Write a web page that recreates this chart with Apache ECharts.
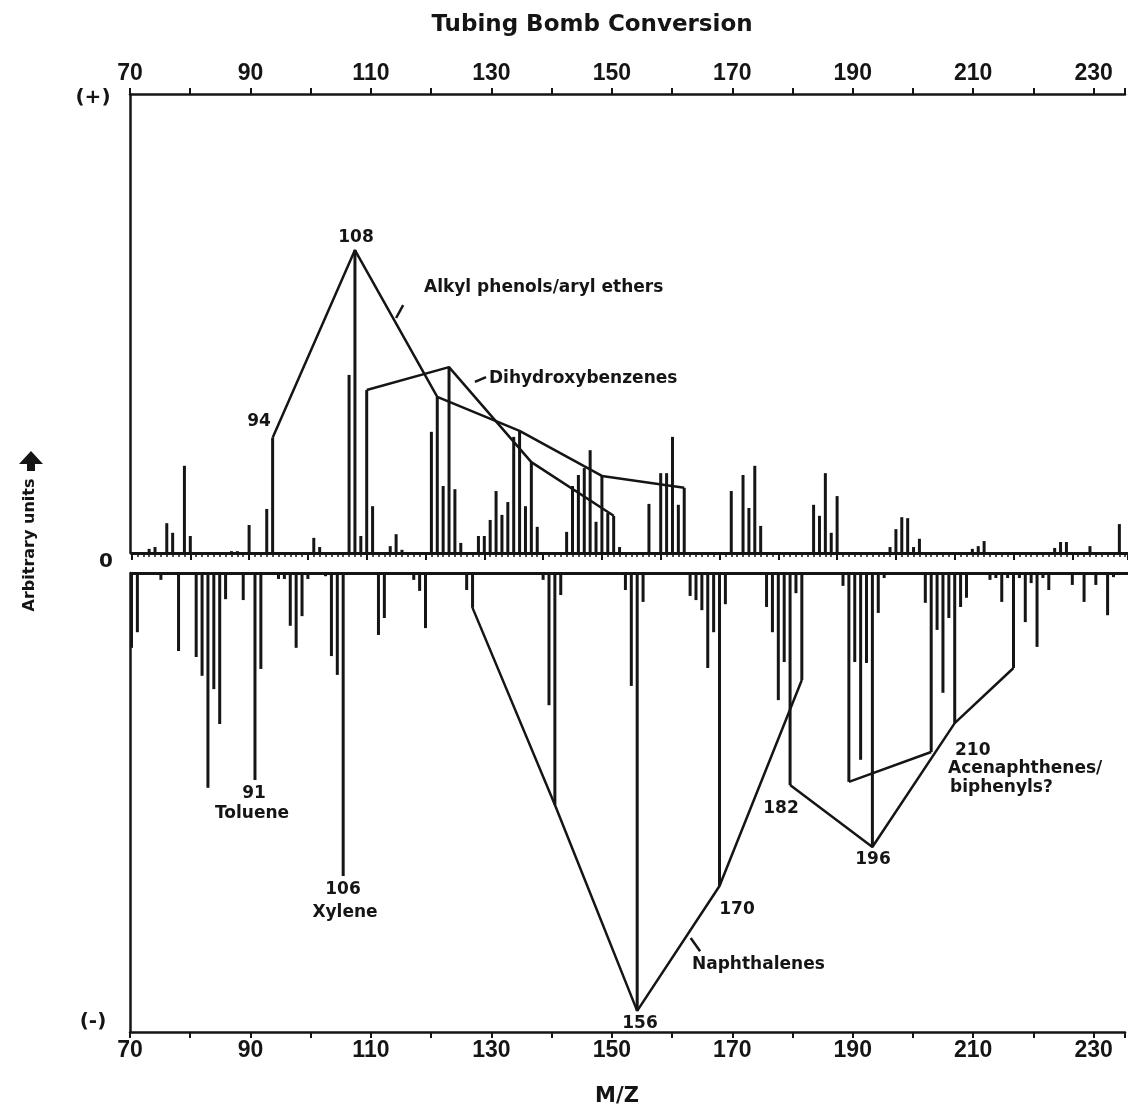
<!DOCTYPE html>
<html>
<head>
<meta charset="utf-8">
<script src="https://cdn.jsdelivr.net/npm/echarts@6/dist/echarts.min.js"></script>
<style>
  html, body { margin: 0; padding: 0; background: #fff; }
  #chart { width: 1128px; height: 1120px; }
</style>
</head>
<body>
<div id="chart"></div>
<script>
// Printed m/z scale on the frame (top and bottom)
const frameMin = 70;
const frameMax = 235.2;
const frameStep = 10;
const frameLabelStep = 20;

// m/z range of the spectrum itself
const spectrumMin = 70;
const spectrumMax = 239.47;

// Ions more abundant after conversion (upper panel, arbitrary units 0-100)
const upperMz = [73, 74, 76, 77, 79, 80, 87, 88, 90, 93, 94, 101, 102, 107, 108, 109, 110, 111,
  114, 115, 116, 121, 122, 123, 124, 125, 126, 129, 130, 131, 132, 133, 134, 135, 136, 137, 138,
  139, 144, 145, 146, 147, 148, 149, 150, 151, 152, 153, 158, 160, 161, 162, 163, 164, 172, 174,
  175, 176, 177, 186, 187, 188, 189, 190, 199, 200, 201, 202, 203, 204, 213, 214, 215, 227, 228,
  229, 233, 238];
const upperVal = [0.9, 1.3, 6.5, 4.4, 19.0, 3.7, 0.4, 0.4, 6.1, 9.6, 25.1, 3.3, 1.3, 38.8, 66.0, 3.7,
  35.5, 10.2, 1.5, 4.1, 0.7, 26.4, 34.0, 14.6, 40.5, 13.9, 2.2, 3.7, 3.7, 7.2, 13.5, 8.3, 11.1,
  25.3, 26.6, 10.2, 19.8, 5.7, 4.6, 14.6, 17.0, 18.5, 22.4, 6.8, 16.8, 8.7, 8.1, 1.3, 10.7, 17.4,
  17.4, 25.3, 10.5, 14.2, 13.5, 17.0, 9.8, 19.0, 5.9, 10.5, 8.1, 17.4, 4.4, 12.4, 1.3, 5.2, 7.8,
  7.6, 1.3, 3.1, 0.9, 1.5, 2.6, 1.1, 2.4, 2.4, 1.5, 6.3];

// Ions less abundant after conversion (lower panel, arbitrary units 0-100, drawn downward)
const lowerMz = [70, 71, 75, 78, 81, 82, 83, 84, 85, 86, 89, 91, 92, 95, 96, 97, 98, 99, 100, 103,
  104, 105, 106, 112, 113, 118, 119, 120, 127, 128, 140, 141, 142, 143, 154, 155, 156, 157, 165,
  166, 167, 168, 169, 170, 171, 178, 179, 180, 181, 182, 183, 184, 191, 192, 193, 194, 195, 196,
  197, 198, 205, 206, 207, 208, 209, 210, 211, 212, 216, 217, 218, 219, 220, 221, 222, 223, 224,
  225, 226, 230, 232, 234, 236, 237];
const lowerVal = [16.3, 12.9, 1.5, 17.0, 18.3, 22.4, 46.8, 25.3, 32.9, 5.7, 5.9, 45.1, 20.9, 1.3,
  1.3, 11.5, 16.3, 9.4, 1.3, 0.7, 18.1, 22.2, 66.0, 13.5, 9.8, 1.5, 3.9, 12.0, 3.7, 7.6, 1.5, 28.8,
  50.5, 4.8, 3.7, 24.6, 95.4, 6.3, 5.0, 5.9, 8.1, 20.7, 12.9, 68.2, 6.8, 7.4, 12.9, 27.7, 19.4,
  46.2, 4.4, 23.3, 2.8, 45.5, 19.4, 40.7, 19.6, 59.7, 8.7, 1.1, 6.5, 39.0, 12.4, 26.1, 9.8, 32.7,
  7.4, 5.4, 1.5, 1.1, 6.3, 1.1, 20.7, 1.1, 10.7, 2.2, 16.1, 1.1, 3.7, 2.6, 6.3, 2.6, 9.2, 0.9];

// Homologous series traced across the peak tops
const alkylPhenolMz = [94, 108, 122, 136, 150, 164];
const dihydroxybenzeneMz = [110, 124, 138, 152];
const naphthaleneMz = [128, 142, 156, 170, 184];
const acenaphtheneMz = [182, 196, 210, 220];
const series192Mz = [192, 206];

// Short leader strokes from the series names to their traces (m/z, units)
const alkylLeader = [[115.0, 51.2], [116.2, 54.0]];
const dihydroxyLeader = [[128.4, 37.3], [130.3, 38.3]];
const naphthaleneLeader = [[165.1, -79.5], [166.7, -82.4]];

const INK = '#151515';

const upperPairs = upperMz.map((m, i) => [m, upperVal[i]]);
const lowerPairs = lowerMz.map((m, i) => [m, -lowerVal[i]]);

function trace(mzList, mzArr, valArr, sign) {
  return mzList.map(m => [m, sign * valArr[mzArr.indexOf(m)]]);
}

const frameLabel = v => {
  const d = Math.round(v - frameMin);
  return (Math.abs(v - Math.round(v)) < 1e-6 && d % frameLabelStep === 0 && v <= 230) ? String(Math.round(v)) : '';
};

const lineStyle = { color: INK, width: 2.5 };

function traceSeries(data, gridAxis) {
  return {
    type: 'line', xAxisIndex: gridAxis, yAxisIndex: gridAxis, data: data,
    symbol: 'none', lineStyle: lineStyle, z: 5, silent: true
  };
}

const annFont = 'bold 17px "DejaVu Sans"';
function label(text, x, y, align) {
  return {
    type: 'text', z: 10,
    style: { text: text, x: x, y: y, font: annFont, fill: INK, align: align || 'center', verticalAlign: 'middle' }
  };
}

const option = {
  animation: false,
  backgroundColor: '#fff',
  grid: [
    { left: 131.5, right: 0, top: 94, height: 459 },
    { left: 131.5, right: 0, top: 573, height: 459 },
    { left: 130, right: 0, top: 94, height: 459 },
    { left: 130, right: 0, top: 573, height: 459 }
  ],
  xAxis: [
    {
      gridIndex: 0, type: 'value', position: 'bottom', min: spectrumMin, max: spectrumMax, interval: 10,
      axisLine: { onZero: false, lineStyle: { color: INK, width: 3 } },
      axisTick: { show: true, inside: false, length: 7, lineStyle: { color: INK, width: 2 } },
      minorTick: { show: true, splitNumber: 10, length: 4, lineStyle: { color: INK, width: 1.5 } },
      axisLabel: { show: false }, splitLine: { show: false }
    },
    {
      gridIndex: 1, type: 'value', position: 'top', min: spectrumMin, max: spectrumMax,
      axisLine: { onZero: false, lineStyle: { color: INK, width: 3 } },
      axisTick: { show: false }, axisLabel: { show: false }, splitLine: { show: false }
    },
    {
      gridIndex: 2, type: 'value', position: 'top', min: frameMin, max: frameMax, interval: frameStep,
      axisLine: { onZero: false, lineStyle: { color: INK, width: 2.5 } },
      axisTick: { show: true, inside: false, length: 6, lineStyle: { color: INK, width: 2 } },
      axisLabel: { show: true, formatter: frameLabel, margin: 9, color: INK, fontSize: 23, fontWeight: 'bold', fontFamily: 'Liberation Sans' },
      splitLine: { show: false }
    },
    {
      gridIndex: 3, type: 'value', position: 'bottom', min: frameMin, max: frameMax, interval: frameStep,
      axisLine: { onZero: false, lineStyle: { color: INK, width: 2.5 } },
      axisTick: { show: true, inside: false, length: 6, lineStyle: { color: INK, width: 2 } },
      axisLabel: { show: true, formatter: frameLabel, margin: 7, color: INK, fontSize: 23, fontWeight: 'bold', fontFamily: 'Liberation Sans' },
      splitLine: { show: false }
    }
  ],
  yAxis: [
    { gridIndex: 0, type: 'value', min: 0, max: 100, show: false, splitLine: { show: false } },
    { gridIndex: 1, type: 'value', min: -100, max: 0, show: false, splitLine: { show: false } },
    {
      gridIndex: 2, type: 'value', min: 0, max: 1,
      axisLine: { show: true, onZero: false, lineStyle: { color: INK, width: 2.5 } },
      axisTick: { show: false }, axisLabel: { show: false }, splitLine: { show: false }
    },
    {
      gridIndex: 3, type: 'value', min: 0, max: 1,
      axisLine: { show: true, onZero: false, lineStyle: { color: INK, width: 2.5 } },
      axisTick: { show: false }, axisLabel: { show: false }, splitLine: { show: false }
    }
  ],
  series: [
    {
      type: 'bar', xAxisIndex: 0, yAxisIndex: 0, data: upperPairs, barWidth: 3,
      itemStyle: { color: INK }, silent: true, z: 3
    },
    {
      type: 'bar', xAxisIndex: 1, yAxisIndex: 1, data: lowerPairs, barWidth: 3,
      itemStyle: { color: INK }, silent: true, z: 3
    },
    traceSeries(trace(alkylPhenolMz, upperMz, upperVal, 1), 0),
    traceSeries(trace(dihydroxybenzeneMz, upperMz, upperVal, 1), 0),
    traceSeries(alkylLeader, 0),
    traceSeries(dihydroxyLeader, 0),
    traceSeries(trace(naphthaleneMz, lowerMz, lowerVal, -1), 1),
    traceSeries(trace(acenaphtheneMz, lowerMz, lowerVal, -1), 1),
    traceSeries(trace(series192Mz, lowerMz, lowerVal, -1), 1),
    traceSeries(naphthaleneLeader, 1)
  ],
  graphic: [
    {
      type: 'text', z: 10,
      style: { text: 'Tubing Bomb Conversion', x: 592, y: 25, font: 'bold 23px "DejaVu Sans"', fill: INK, align: 'center', verticalAlign: 'middle' }
    },
    {
      type: 'text', z: 10,
      style: { text: 'M/Z', x: 617, y: 1097, font: 'bold 21px "DejaVu Sans"', fill: INK, align: 'center', verticalAlign: 'middle' }
    },
    {
      type: 'text', z: 10, x: 30, y: 545, rotation: Math.PI / 2,
      style: { text: 'Arbitrary units', x: 0, y: 0, font: 'bold 16px "DejaVu Sans"', fill: INK, align: 'center', verticalAlign: 'middle' }
    },
    {
      type: 'polygon', z: 10,
      shape: { points: [[31, 451], [43, 464], [35, 464], [35, 471], [27, 471], [27, 464], [19, 464]] },
      style: { fill: INK }
    },
    {
      type: 'text', z: 10,
      style: { text: '(+)', x: 93, y: 98, font: 'bold 20px "DejaVu Sans"', fill: INK, align: 'center', verticalAlign: 'middle' }
    },
    {
      type: 'text', z: 10,
      style: { text: '0', x: 106, y: 562, font: 'bold 20px "DejaVu Sans"', fill: INK, align: 'center', verticalAlign: 'middle' }
    },
    {
      type: 'text', z: 10,
      style: { text: '(-)', x: 93, y: 1022, font: 'bold 20px "DejaVu Sans"', fill: INK, align: 'center', verticalAlign: 'middle' }
    },
    label('108', 356, 238),
    label('94', 259, 422),
    label('Alkyl phenols/aryl ethers', 424, 288, 'left'),
    label('Dihydroxybenzenes', 489, 379, 'left'),
    label('91', 254, 794),
    label('Toluene', 252, 814),
    label('106', 343, 890),
    label('Xylene', 345, 913),
    label('156', 640, 1024),
    label('170', 737, 910),
    label('182', 781, 809),
    label('196', 873, 860),
    label('210', 955, 751, 'left'),
    label('Acenaphthenes/', 948, 769, 'left'),
    label('biphenyls?', 950, 788, 'left'),
    label('Naphthalenes', 692, 965, 'left')
  ]
};

const chart = echarts.init(document.getElementById('chart'), null, { renderer: 'canvas' });
chart.setOption(option);
</script>
</body>
</html>
